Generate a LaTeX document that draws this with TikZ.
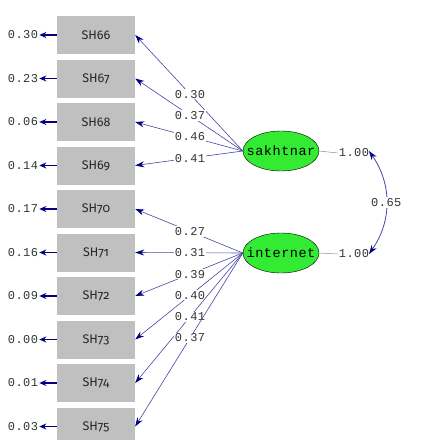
\documentclass[tikz,border=0pt]{standalone}
\usepackage{fontspec}
\usetikzlibrary{arrows.meta,shapes.geometric}
\newfontfamily\lisnum[LetterSpace=4]{Liberation Mono}
\newfontfamily\lisbox[Numbers=OldStyle]{Fira Sans}
\definecolor{lisnavy}{RGB}{0,0,128}
\definecolor{lisline}{RGB}{70,70,165}
\definecolor{lisgreen}{RGB}{50,235,50}
\definecolor{lisgrey}{RGB}{192,192,192}
\tikzset{
	obs/.style={fill=lisgrey, minimum width=78pt, minimum height=38pt, inner sep=0pt, text=black!85, font=\lisbox\fontsize{12.5}{14}\selectfont},
	lat/.style={ellipse, draw=black, fill=lisgreen, minimum width=76pt, minimum height=40pt, inner xsep=-8pt, inner ysep=0pt, font=\lisnum\fontsize{13.5}{15}\selectfont},
	val/.style={fill=white, inner sep=1pt, text=black!80, font=\lisnum\fontsize{12}{14}\selectfont},
	load/.style={draw=lisline, line width=0.6pt, -{Stealth[length=9pt,width=6pt,lisnavy]}},
	errarrow/.style={draw=lisnavy, line width=1.2pt, -{Stealth[length=7pt,width=6pt]}},
	corr/.style={draw=lisline, line width=0.8pt, {Stealth[length=9pt,width=6pt,lisnavy]}-{Stealth[length=9pt,width=6pt,lisnavy]}}
}
\begin{document}
\begin{tikzpicture}[x=1pt, y=-1pt]
			%%%%% START %%%%%
			\useasboundingbox (0, 0) rectangle (447, 439);
			
			% observed variables and error variances
			\foreach \n/\e [count=\i from 0] in {66/0.30, 67/0.23, 68/0.06, 69/0.14, 70/0.17, 71/0.16, 72/0.09, 73/0.00, 74/0.01, 75/0.03}{
				\node[obs] (sh\n) at (96, {35+43.5*\i}) {SH\n};
				\node[val, fill=none] (err\n) at (23, {35+43.5*\i}) {\e};
				\draw[errarrow] (sh\n.west) -- (err\n.east);
			}
			
			% latent variables
			\node[lat] (sakhtnar) at (281, 151) {sakhtnar};
			\node[lat] (internet) at (281, 253) {internet};
			
			\node[val] (varsak) at (354, 153) {1.00};
			\node[val] (varint) at (354, 254) {1.00};
			\draw[black!45, line width=0.5pt] (sakhtnar.east) -- (varsak.west);
			\draw[black!45, line width=0.5pt] (internet.east) -- (varint.west);
			
			% loadings
			\foreach \n/\l in {66/0.30, 67/0.37, 68/0.46, 69/0.41}
				\draw[load] (sakhtnar.west) -- node[val, pos=0.49] {\l} (sh\n.east);
			\foreach \n/\l in {70/0.27, 71/0.31, 72/0.39, 73/0.40, 74/0.41, 75/0.37}
				\draw[load] (internet.west) -- node[val, pos=0.49] {\l} (sh\n.east);
			
			% correlation
			\coordinate (corrtop) at (369, 151);
			\coordinate (corrbot) at (369, 254);
			\draw[corr] (corrtop) to[bend left=35] node[val] {0.65} (corrbot);
			
			%%%%% END %%%%%
\end{tikzpicture}
\end{document}
